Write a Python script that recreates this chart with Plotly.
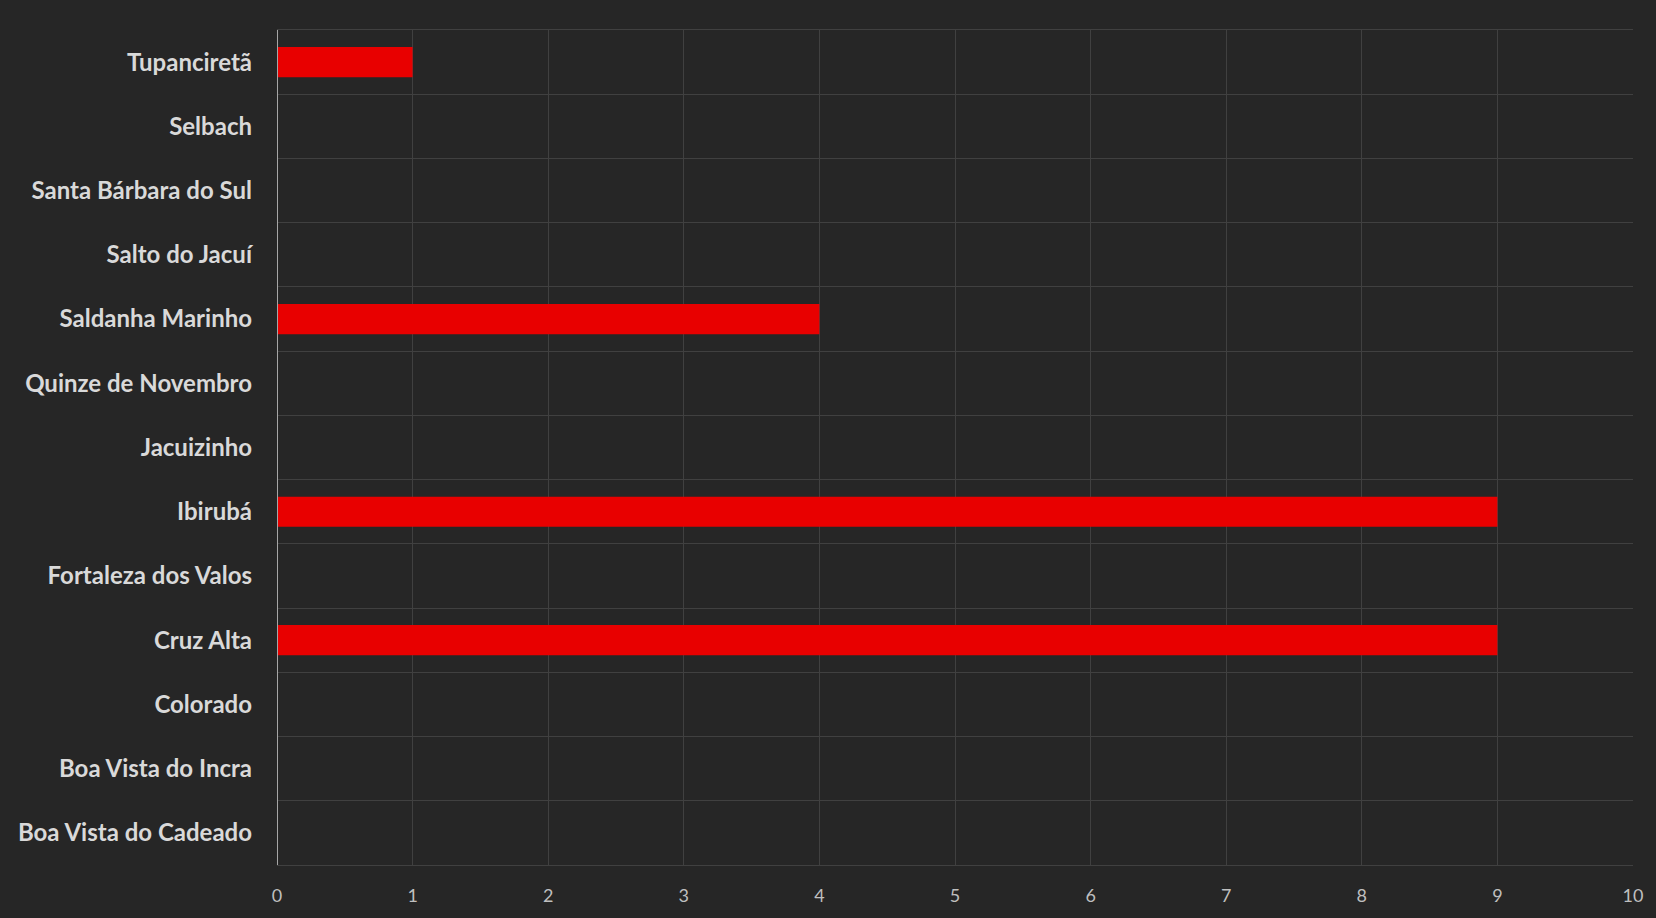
import plotly.graph_objects as go

categories = [
    "Boa Vista do Cadeado", "Boa Vista do Incra", "Colorado", "Cruz Alta",
    "Fortaleza dos Valos", "Ibirubá", "Jacuizinho", "Quinze de Novembro",
    "Saldanha Marinho", "Salto do Jacuí", "Santa Bárbara do Sul", "Selbach",
    "Tupanciretã",
]
values = [0, 0, 0, 9, 0, 9, 0, 0, 4, 0, 0, 0, 1]
x_ticks = list(range(0, 11))

fig = go.Figure(go.Bar(
    x=values, y=categories, orientation="h",
    marker=dict(color="#E80000", line=dict(width=0)),
))

fig.update_layout(
    width=1656, height=918,
    paper_bgcolor="#262626", plot_bgcolor="#262626",
    margin=dict(l=277, r=23, t=30, b=51),
    bargap=0.53,
    showlegend=False,
    font=dict(family="Lato, Open Sans, sans-serif"),
)
fig.update_xaxes(
    range=[0, 10], tickvals=x_ticks, ticktext=[str(v) for v in x_ticks],
    showgrid=True, gridcolor="#404040", gridwidth=1,
    zeroline=False, showline=True, linecolor="#404040", mirror=True,
    tickfont=dict(size=18, color="#BFBFBF", family="Lato, sans-serif"),
    ticks="", ticklabelstandoff=14, fixedrange=True,
)
fig.update_yaxes(
    type="category", categoryorder="array", categoryarray=categories,
    tickson="boundaries", showgrid=True, gridcolor="#404040", gridwidth=1,
    showline=False, zeroline=False, ticks="", automargin=False,
    tickfont=dict(size=24, color="#D9D9D9", family="Lato, sans-serif", weight="bold"),
    ticklabelstandoff=24,
)
fig.add_shape(type="line", xref="x", yref="paper", x0=0, x1=0, y0=0, y1=1,
              line=dict(color="#A6A6A6", width=2))

fig.write_html(
    "out.html",
    config={"displayModeBar": False},
    post_script="document.body.style.margin='0';document.body.style.background='#262626';",
)
